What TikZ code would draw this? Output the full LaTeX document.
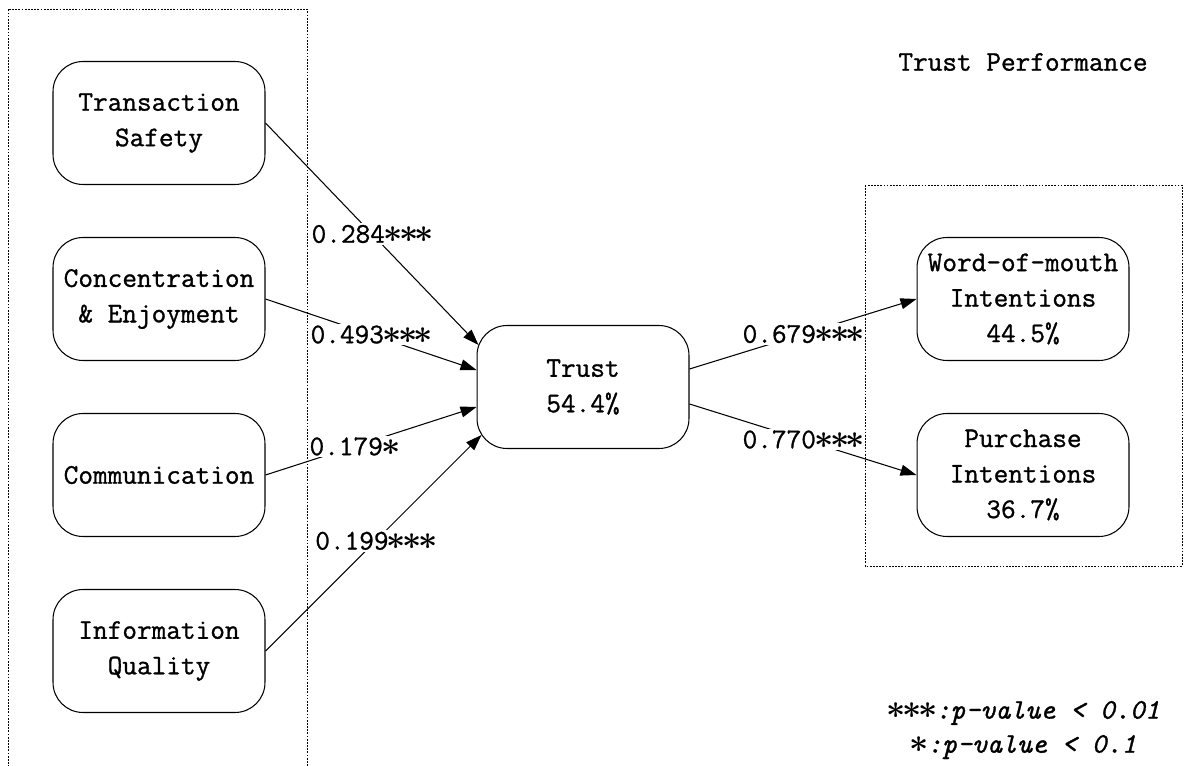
\documentclass[tikz,border=0pt]{standalone}
\usepackage{fontspec}
\usepackage{amsmath}
\usepackage{graphicx}
\setmonofont{Latin Modern Mono}[FakeBold=1]
\usetikzlibrary{arrows.meta}

\newcommand{\sig}{\makebox[9pt]{\scalebox{1.1}{$\boldsymbol{\ast}$}}}

\tikzset{
    txt/.style={font=\ttfamily\fontsize{16.2}{20.2}\selectfont},
    factor/.style={txt, draw, line width=0.6pt, rounded corners=0.6cm,
        minimum width=4.24cm, minimum height=2.46cm, align=center, inner sep=0pt},
    coef/.style={txt, fill=white, inner sep=1pt},
    link/.style={line width=0.6pt, -{Triangle[length=0.32cm,width=0.22cm]}},
    group/.style={line width=0.5pt, dash pattern=on 1pt off 0.8pt}
}

\begin{document}
\begin{tikzpicture}[x=0.02cm,y=-0.02cm]
    \useasboundingbox (0,0) rectangle (1185,766);
    %% groups
    \draw[group] (8,767) -- (8,9) -- (307,9) -- (307,767);
    \draw[group] (865,185) rectangle (1182,566);
    %% factors
    \node[factor] (safety) at (159,123) {Transaction\\Safety};
    \node[factor] (enjoy) at (159,299) {Concentration\\\& Enjoyment};
    \node[factor] (comm) at (159,475) {Communication};
    \node[factor] (info) at (159,651) {Information\\Quality};
    %% trust and its outcomes
    \node[factor] (trust) at (583,387) {Trust\\54.4\%};
    \node[factor] (wom) at (1023,299) {Word-of-mouth\\Intentions\\44.5\%};
    \node[factor] (buy) at (1023,475) {Purchase\\Intentions\\36.7\%};
    \node[txt] (title) at (1023,62) {Trust Performance};
    \node[txt, font=\ttfamily\itshape\fontsize{16.2}{19.4}\selectfont, align=center] (legend) at (1024,730)
        {\sig\sig\sig:p-value < 0.01\\\sig:p-value < 0.1};
    %% paths
    \draw[link] (safety.east) -- node[coef,pos=0.5] {0.284\sig\sig\sig} ([yshift=0.84cm,xshift=0.04cm]trust.west);
    \draw[link] (enjoy.east) -- node[coef,pos=0.5] {0.493\sig\sig\sig} ([yshift=0.34cm]trust.west);
    \draw[link] (comm.east) -- node[coef,pos=0.42] {0.179\sig} ([yshift=-0.4cm]trust.west);
    \draw[link] (info.east) -- node[coef,pos=0.51] {0.199\sig\sig\sig} ([yshift=-0.96cm,xshift=0.1cm]trust.west);
    \draw[link] ([yshift=0.36cm]trust.east) -- node[coef,pos=0.5] {0.679\sig\sig\sig} (wom.west);
    \draw[link] ([yshift=-0.34cm]trust.east) -- node[coef,pos=0.5] {0.770\sig\sig\sig} (buy.west);
\end{tikzpicture}
\end{document}
